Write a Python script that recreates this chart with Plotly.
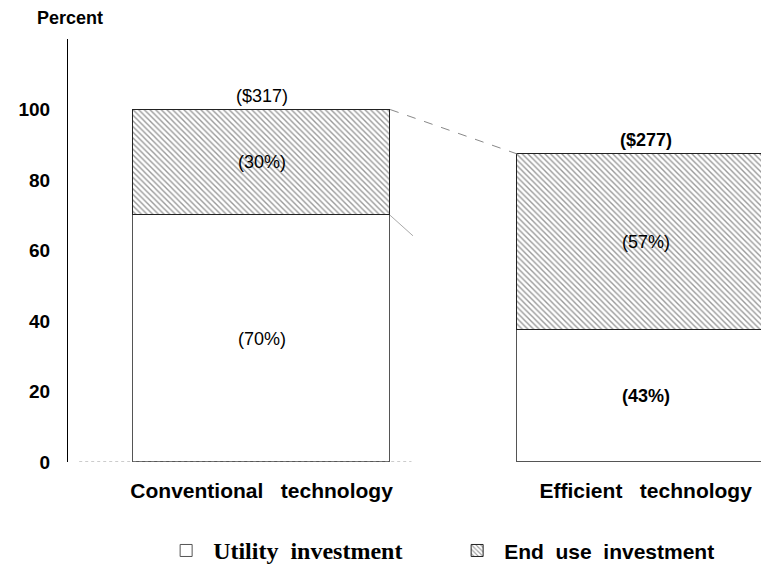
import plotly.graph_objects as go

# values
categories = ["Conventional\u00a0\u00a0\u00a0technology", "Efficient\u00a0\u00a0\u00a0technology"]
costs = [317, 277]            # total investment, dollars
utility_share = [70, 43]      # percent of each bar
enduse_share = [30, 57]
y_ticks = [0, 20, 40, 60, 80, 100]

# bar heights as percent of the conventional total
totals = [100 * c / costs[0] for c in costs]
utility = [t * s / 100 for t, s in zip(totals, utility_share)]
enduse = [t * s / 100 for t, s in zip(totals, enduse_share)]

xpos = [0, 1]
bar_w = 0.669
sans = "Liberation Sans, Arial, sans-serif"

fig = go.Figure()
fig.add_trace(go.Bar(
    x=xpos, y=utility, width=bar_w,
    name='<span style="font-family:Liberation Serif;font-size:24px">Utility\u00a0\u00a0investment</span>',
    marker=dict(color="white", line=dict(color="#555555", width=1)),
))
fig.add_trace(go.Bar(
    x=xpos, y=enduse, width=bar_w, name="End\u00a0\u00a0use\u00a0\u00a0investment",
    marker=dict(color="white", line=dict(color="#222222", width=1),
                pattern=dict(shape="\\", fgcolor="#333333", bgcolor="white", size=4, solidity=0.35)),
))

# labels
bold = [False, True]
for i in range(2):
    w = "bold" if bold[i] else "normal"
    fig.add_annotation(x=xpos[i], y=totals[i], text=f"(${costs[i]})", showarrow=False,
                       yanchor="bottom", yshift=2, font=dict(family=sans, size=18, color="black", weight=w))
    fig.add_annotation(x=xpos[i], y=utility[i] + enduse[i] / 2, text=f"({enduse_share[i]}%)", showarrow=False,
                       font=dict(family=sans, size=18, color="black"))
    fig.add_annotation(x=xpos[i], y=utility[i] / 2, text=f"({utility_share[i]}%)", showarrow=False,
                       font=dict(family=sans, size=18, color="black", weight=w))

# connector lines between the two bars
x0 = xpos[0] + bar_w / 2
x1 = xpos[1] - bar_w / 2
fig.add_shape(type="line", x0=x0, y0=totals[0], x1=x1, y1=totals[1],
              line=dict(color="#888888", width=1, dash="dash"))
fig.add_shape(type="line", x0=x0, y0=utility[0], x1=x0 + (x1 - x0) * 0.18,
              y1=utility[0] - (utility[0] - utility[1]) * 0.18,
              line=dict(color="#aaaaaa", width=1))
# faint baseline under the left bar
fig.add_shape(type="line", xref="paper", yref="y", x0=0.016, x1=0.49, y0=0, y1=0,
              line=dict(color="#999999", width=1, dash="dot"))

fig.add_annotation(xref="paper", yref="paper", x=-0.047, y=1.05, xanchor="left", yanchor="middle",
                   text="Percent", showarrow=False, font=dict(family=sans, size=18, color="black", weight="bold"))

# page body adds an 8px offset, margins compensate for it
fig.update_layout(
    width=769, height=565,
    margin=dict(l=60, r=8, t=31, b=111, autoexpand=False),
    plot_bgcolor="white", paper_bgcolor="white",
    barmode="stack", bargap=0,
    showlegend=True,
    legend=dict(orientation="h", x=0.13, y=-0.21, xanchor="left", yanchor="middle",
                font=dict(family=sans, size=21, color="black", weight="bold"),
                entrywidth=232, itemwidth=44, traceorder="normal"),
    xaxis=dict(range=[-0.504, 1.321], tickvals=xpos, ticktext=categories, showline=False,
               showgrid=False, zeroline=False, ticks="outside", ticklen=10, tickcolor="rgba(0,0,0,0)",
               automargin=False,
               tickfont=dict(family=sans, size=21, color="black", weight="bold")),
    yaxis=dict(range=[0, 120], tickvals=y_ticks, showline=True, linecolor="black", linewidth=1,
               showgrid=False, zeroline=False, ticklabelstandoff=13, automargin=False,
               tickfont=dict(family=sans, size=19, color="black", weight="bold")),
)

fig.write_html("out.html")
